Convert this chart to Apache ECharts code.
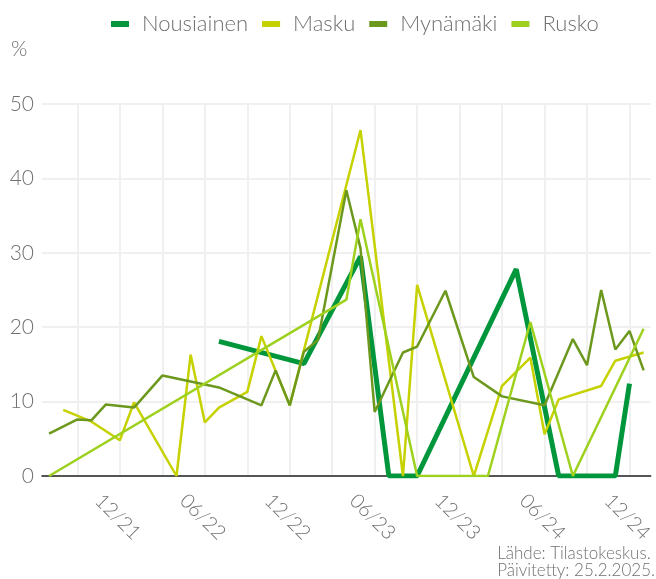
<!DOCTYPE html>
<html>
<head>
<meta charset="utf-8">
<script src="https://cdn.jsdelivr.net/npm/echarts@6/dist/echarts.min.js"></script>
<style>
  html, body { margin: 0; padding: 0; background: #fff; }
  #chart { width: 656px; height: 579px; }
</style>
</head>
<body>
<div id="chart"></div>
<script>
// kuukaudet 07/21 - 01/25
const months = [
  '07/21', '08/21', '09/21', '10/21', '11/21', '12/21',
  '01/22', '02/22', '03/22', '04/22', '05/22', '06/22', '07/22', '08/22', '09/22', '10/22', '11/22', '12/22',
  '01/23', '02/23', '03/23', '04/23', '05/23', '06/23', '07/23', '08/23', '09/23', '10/23', '11/23', '12/23',
  '01/24', '02/24', '03/24', '04/24', '05/24', '06/24', '07/24', '08/24', '09/24', '10/24', '11/24', '12/24',
  '01/25'
]
const shownLabels = ['12/21', '06/22', '12/22', '06/23', '12/23', '06/24', '12/24']
const yTicks = [0, 10, 20, 30, 40, 50]

const nousiainen = [
  null, null, null, null, null, null, null, null, null, null, null, null, 18.1, null, null, null, null, null,
  15.1, null, null, null, 29.5, null, 0, 0, 0, null, null, null,
  null, null, null, 27.8, null, null, 0, 0, 0, 0, 0, 12.4,
  null
]
const masku = [
  null, 8.9, null, 7.3, null, 4.8,
  9.9, null, null, 0, 16.3, 7.2, 9.2, null, 11.3, 18.8, null, 9.5,
  null, null, null, null, 46.5, null, null, 0, 25.7, null, null, null,
  0, null, 12.1, null, 15.9, 5.6, 10.3, null, null, 12.1, 15.5, null,
  16.6
]
const mynamaki = [
  5.7, null, 7.6, 7.5, 9.6, null,
  9.2, null, 13.5, null, null, null, 11.9, null, null, 9.5, 14.2, 9.5,
  16.7, 18.3, null, 38.4, 30.6, 8.6, null, 16.6, 17.4, null, 24.9, null,
  13.3, null, 10.7, null, null, 9.5, null, 18.4, 14.9, 25.0, 17.0, 19.5,
  14.2
]
const rusko = [
  0, null, null, null, null, null,
  null, null, null, null, null, null, null, null, null, null, null, null,
  null, null, null, 23.7, 34.5, null, null, null, 0, 0, 0, 0,
  0, 0, null, null, 20.7, null, null, 0, null, null, null, null,
  19.8
]

const colors = ['#00963c', '#c6d100', '#6c981d', '#9dd11e']
const font = 'Lato, "Open Sans", sans-serif'

function line(name, data, width) {
  return {
    name: name,
    type: 'line',
    data: data,
    connectNulls: true,
    showSymbol: false,
    symbol: 'none',
    lineStyle: { width: width },
    emphasis: { disabled: true }
  }
}

const option = {
  color: colors,
  animation: false,
  textStyle: { fontFamily: font },
  legend: {
    left: 106,
    top: 8,
    itemWidth: 18,
    itemHeight: 6,
    itemGap: 14,
    icon: 'rect',
    textStyle: { fontSize: 22, color: '#707070', fontWeight: 300, padding: [0, 0, 0, 8] },
    data: ['Nousiainen', 'Masku', 'Mynämäki', 'Rusko']
  },
  grid: {
    left: 42,
    right: 3,
    top: 104,
    bottom: 103
  },
  xAxis: {
    type: 'category',
    data: months,
    boundaryGap: true,
    axisLine: { lineStyle: { color: '#222', width: 1.5 } },
    axisTick: { show: false },
    splitLine: {
      show: true,
      alignWithLabel: true,
      interval: (i) => i % 3 === 2,
      lineStyle: { color: '#f0f0f0', width: 2 }
    },
    axisLabel: {
      interval: (i, v) => shownLabels.indexOf(v) >= 0,
      rotate: -45,
      align: 'center',
      verticalAlign: 'middle',
      margin: 43,
      padding: [0, 6, 0, 0],
      fontSize: 20,
      fontWeight: 300,
      color: '#707070'
    }
  },
  yAxis: {
    type: 'value',
    min: yTicks[0],
    max: yTicks[yTicks.length - 1],
    interval: 10,
    axisLine: { show: false },
    axisTick: { show: false },
    splitLine: { lineStyle: { color: '#f0f0f0', width: 2 } },
    axisLabel: { fontSize: 21, fontWeight: 300, color: '#707070', margin: 8 }
  },
  graphic: [
    {
      type: 'text', left: 11, top: 39,
      style: { text: '%', fontSize: 21, fontWeight: 300, fill: '#707070', fontFamily: font }
    },
    {
      type: 'text', right: 1, top: 545,
      style: {
        text: 'Lähde: Tilastokeskus.\nPäivitetty: 25.2.2025.',
        fontSize: 17, lineHeight: 17, align: 'right', fontWeight: 300,
        fill: '#707070', fontFamily: font
      }
    }
  ],
  series: [
    line('Nousiainen', nousiainen, 5),
    line('Masku', masku, 2.5),
    line('Mynämäki', mynamaki, 2.5),
    line('Rusko', rusko, 2.5)
  ]
}

const myChart = echarts.init(document.getElementById('chart'))
myChart.setOption(option)
</script>
</body>
</html>
